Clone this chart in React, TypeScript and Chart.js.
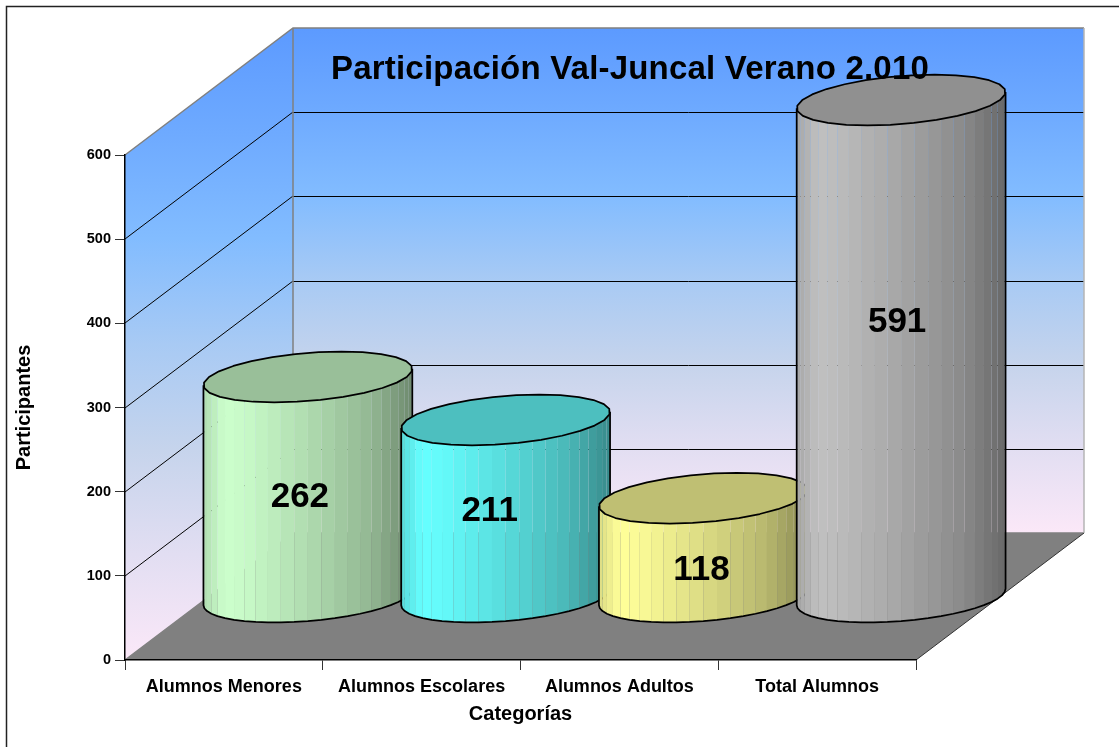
import React, { useEffect, useRef } from "react";
import { Chart, registerables } from "chart.js";

Chart.register(...registerables);

const categories = ["Alumnos Menores", "Alumnos Escolares", "Alumnos Adultos", "Total Alumnos"];
const values = [262, 211, 118, 591];
const barColors = ["#ccffcc", "#66ffff", "#ffff99", "#c0c0c0"];
const labelShiftX = [-8, -16, -2, -4];
const labelShiftY = [10, 3, 23, -26];
const chartTitle = "Participación Val-Juncal Verano 2.010";
const yTitle = "Participantes";
const xTitle = "Categorías";

const FONT = "'Liberation Sans', Arial, sans-serif";
const DX = 168;
const DY = 127;
const wallStops: [number, string][] = [
  [0, "#5c9aff"],
  [0.167, "#6eaaff"],
  [0.333, "#82bcff"],
  [0.5, "#a8caf4"],
  [0.667, "#c6d4ec"],
  [0.833, "#e2def2"],
  [1, "#fbe8f8"],
];

function hexRgb(h: string) {
  return [1, 3, 5].map((i) => parseInt(h.slice(i, i + 2), 16));
}
function shadeOf(t: number) {
  const pts = [
    [0, 0.86],
    [0.1, 1],
    [0.2, 0.98],
    [0.5, 0.86],
    [0.8, 0.72],
    [1, 0.54],
  ];
  for (let i = 1; i < pts.length; i++) {
    if (t <= pts[i][0]) {
      const f = (t - pts[i - 1][0]) / (pts[i][0] - pts[i - 1][0]);
      return pts[i - 1][1] + f * (pts[i][1] - pts[i - 1][1]);
    }
  }
  return pts[pts.length - 1][1];
}
function mul(rgb: number[], k: number) {
  return `rgb(${rgb.map((c) => Math.round(c * k)).join(",")})`;
}

function drawCylinder(ctx: CanvasRenderingContext2D, el: any, color: string) {
  const rgb = hexRgb(color);
  const cx = el.x + DX / 2;
  const yTop = el.y - DY / 2 + 1;
  const yBase = el.base - DY / 2 + 1;
  const rx = el.width / 2;
  const sx = DX * 0.2;
  const sy = DY * 0.2;
  const px = (a: number) => cx + rx * Math.cos(a) + sx * Math.sin(a);
  const py = (a: number, yc: number) => yc - sy * Math.sin(a);
  const thR = Math.atan2(sx, rx);
  const start = thR + Math.PI;
  const N = 24;
  const xl = px(start);
  const xr = px(start + Math.PI);
  for (let i = 0; i < N; i++) {
    const a0 = start + (Math.PI * i) / N;
    const a1 = start + (Math.PI * (i + 1)) / N;
    const t = ((px(a0) + px(a1)) / 2 - xl) / (xr - xl);
    ctx.fillStyle = mul(rgb, shadeOf(t));
    ctx.beginPath();
    ctx.moveTo(px(a0), py(a0, yTop));
    ctx.lineTo(px(a1), py(a1, yTop));
    ctx.lineTo(px(a1), py(a1, yBase));
    ctx.lineTo(px(a0), py(a0, yBase));
    ctx.closePath();
    ctx.fill();
  }
  ctx.strokeStyle = "#000";
  ctx.lineWidth = 1.75;
  ctx.lineJoin = "round";
  ctx.beginPath();
  ctx.moveTo(px(start), py(start, yTop));
  for (let i = 0; i <= N; i++) {
    const a = start + (Math.PI * i) / N;
    ctx.lineTo(px(a), py(a, yBase));
  }
  ctx.lineTo(px(start + Math.PI), py(start + Math.PI, yTop));
  ctx.stroke();
  ctx.beginPath();
  for (let i = 0; i < 28; i++) {
    const a = (2 * Math.PI * i) / 28;
    if (i === 0) ctx.moveTo(px(a), py(a, yTop));
    else ctx.lineTo(px(a), py(a, yTop));
  }
  ctx.closePath();
  ctx.fillStyle = mul(rgb, 0.75);
  ctx.fill();
  ctx.stroke();
}

const scenePlugin = {
  id: "scene3d",
  beforeDraw(chart: any) {
    const { ctx, chartArea, scales } = chart;
    const { left, right, top, bottom } = chartArea;
    ctx.save();
    // outer frame
    ctx.fillStyle = "#fff";
    ctx.fillRect(0, 0, chart.width, chart.height);
    ctx.strokeStyle = "#222";
    ctx.lineWidth = 1.5;
    ctx.beginPath();
    ctx.moveTo(6.5, chart.height);
    ctx.lineTo(6.5, 6.5);
    ctx.lineTo(chart.width, 6.5);
    ctx.stroke();

    const g = ctx.createLinearGradient(0, top - DY, 0, bottom - DY);
    wallStops.forEach(([o, c]) => g.addColorStop(o, c));
    ctx.fillStyle = g;
    ctx.fillRect(left + DX, top - DY, right - left, bottom - top);

    const gs = ctx.createLinearGradient(0, top - DY, 0, bottom);
    wallStops.forEach(([o, c]) => gs.addColorStop(o, c));
    ctx.fillStyle = gs;
    ctx.beginPath();
    ctx.moveTo(left, top);
    ctx.lineTo(left + DX, top - DY);
    ctx.lineTo(left + DX, bottom - DY);
    ctx.lineTo(left, bottom);
    ctx.closePath();
    ctx.fill();

    // floor
    ctx.fillStyle = "#808080";
    ctx.beginPath();
    ctx.moveTo(left, bottom);
    ctx.lineTo(right, bottom);
    ctx.lineTo(right + DX, bottom - DY);
    ctx.lineTo(left + DX, bottom - DY);
    ctx.closePath();
    ctx.fill();

    // gridlines on the two walls
    ctx.strokeStyle = "#000";
    ctx.lineWidth = 1;
    scales.y.ticks.forEach((tk: any) => {
      if (tk.value === 0 || tk.value === 600) return;
      const y = Math.round(scales.y.getPixelForValue(tk.value));
      ctx.beginPath();
      ctx.moveTo(left, y);
      ctx.lineTo(left + DX, y - DY);
      ctx.stroke();
      ctx.beginPath();
      ctx.moveTo(left + DX, y - DY + 0.5);
      ctx.lineTo(right + DX, y - DY + 0.5);
      ctx.stroke();
    });

    // wall outline
    ctx.strokeStyle = "#808080";
    ctx.lineWidth = 1.5;
    ctx.beginPath();
    ctx.moveTo(left, top);
    ctx.lineTo(left + DX, top - DY);
    ctx.lineTo(right + DX, top - DY);
    ctx.moveTo(left + DX, top - DY);
    ctx.lineTo(left + DX, bottom - DY);
    ctx.lineTo(right + DX, bottom - DY);
    ctx.moveTo(left, bottom);
    ctx.lineTo(left + DX, bottom - DY);
    ctx.stroke();
    ctx.strokeStyle = "#b4b4b4";
    ctx.beginPath();
    ctx.moveTo(right + DX, top - DY);
    ctx.lineTo(right + DX, bottom - DY);
    ctx.stroke();
    ctx.strokeStyle = "#333";
    ctx.lineWidth = 1;
    ctx.beginPath();
    ctx.moveTo(right, bottom);
    ctx.lineTo(right + DX, bottom - DY);
    ctx.stroke();
    ctx.restore();
  },
  beforeDatasetDraw(chart: any, args: any) {
    const { ctx } = chart;
    const meta = chart.getDatasetMeta(args.index);
    const ds = chart.data.datasets[args.index];
    ctx.save();
    meta.data.forEach((el: any, i: number) => drawCylinder(ctx, el, ds.backgroundColor[i]));
    ctx.fillStyle = "#000";
    ctx.font = `bold 35px ${FONT}`;
    ctx.textAlign = "center";
    ctx.textBaseline = "middle";
    meta.data.forEach((el: any, i: number) => {
      const mid = (el.y + el.base) / 2 - DY / 2 + 1;
      ctx.fillText(String(ds.data[i]), el.x + DX / 2 + labelShiftX[i], mid + labelShiftY[i]);
    });
    ctx.restore();
    return false;
  },
  afterDraw(chart: any) {
    const { ctx } = chart;
    ctx.save();
    ctx.fillStyle = "#000";
    ctx.font = `bold 33px ${FONT}`;
    (ctx as any).letterSpacing = "0.2px";
    ctx.textAlign = "center";
    ctx.textBaseline = "alphabetic";
    ctx.fillText(chartTitle, 630, 79);
    ctx.restore();
  },
};

function fitY(scale: any) {
  scale.width = 113;
  scale.paddingTop = scale.paddingBottom = scale.paddingLeft = scale.paddingRight = 0;
}
function fitX(scale: any) {
  scale.height = 87;
  scale.paddingTop = scale.paddingBottom = scale.paddingLeft = scale.paddingRight = 0;
}

export default function App() {
  const ref = useRef<HTMLCanvasElement>(null);
  useEffect(() => {
    const chart = new Chart(ref.current as HTMLCanvasElement, {
      type: "bar",
      data: {
        labels: categories,
        datasets: [
          {
            label: yTitle,
            data: values,
            backgroundColor: barColors,
            barPercentage: 1,
            categoryPercentage: 1,
          },
        ],
      },
      options: {
        responsive: false,
        animation: false,
        devicePixelRatio: 1,
        layout: { padding: { left: 12, right: 203, top: 155, bottom: 0 } },
        plugins: { legend: { display: false }, tooltip: { enabled: false }, title: { display: false } },
        scales: {
          x: {
            afterFit: fitX,
            grid: { drawOnChartArea: false, drawTicks: true, tickLength: 10, color: "#333" },
            border: { color: "#000", width: 1.5 },
            ticks: {
              color: "#000",
              font: { family: FONT, weight: "bold", size: 18 },
              padding: 6,
              maxRotation: 0,
              autoSkip: false,
            },
            title: {
              display: true,
              text: xTitle,
              color: "#000",
              font: { family: FONT, weight: "bold", size: 20 },
              padding: { top: 0, bottom: 21 },
            },
          },
          y: {
            min: 0,
            max: 600,
            afterFit: fitY,
            grid: { drawOnChartArea: false, drawTicks: true, tickLength: 10, color: "#333" },
            border: { color: "#000", width: 1.5 },
            ticks: {
              stepSize: 100,
              color: "#000",
              font: { family: FONT, weight: "bold", size: 14.5 },
              padding: 4,
            },
            title: {
              display: true,
              text: yTitle,
              color: "#000",
              font: { family: FONT, weight: "bold", size: 20 },
              padding: { top: 0, bottom: 0 },
            },
          },
        },
      },
      plugins: [scenePlugin],
    } as any);
    return () => chart.destroy();
  }, []);
  return (
    <canvas
      ref={ref}
      width={1119}
      height={747}
      style={{ position: "absolute", left: 0, top: 0, display: "block" }}
    />
  );
}
